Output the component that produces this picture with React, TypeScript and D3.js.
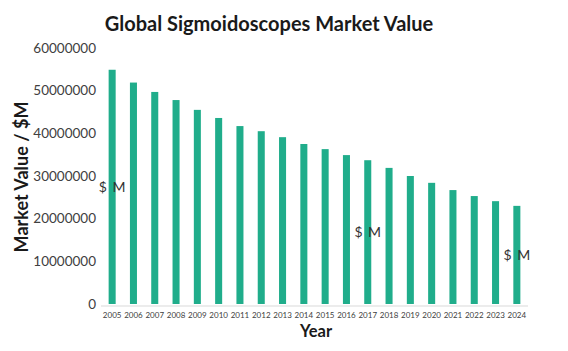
import * as d3 from "d3";
import React, { useEffect, useRef } from "react";

const years = [
  "2005", "2006", "2007", "2008", "2009", "2010", "2011", "2012", "2013", "2014",
  "2015", "2016", "2017", "2018", "2019", "2020", "2021", "2022", "2023", "2024",
];
const values = [
  54900000, 51900000, 49700000, 47800000, 45500000, 43600000, 41700000, 40500000,
  39100000, 37500000, 36300000, 34900000, 33700000, 31900000, 30000000, 28400000,
  26700000, 25300000, 24100000, 23000000,
];
const yTicks = [0, 10000000, 20000000, 30000000, 40000000, 50000000, 60000000];
const labelYears = ["2005", "2017", "2024"];

export default function App() {
  const ref = useRef<SVGSVGElement>(null);

  useEffect(() => {
    const svg = d3.select(ref.current);
    svg.selectAll("*").remove();
    const font = "Lato, 'Open Sans', sans-serif";

    const x = d3
      .scaleBand()
      .domain(years)
      .range([101.5, 527.5])
      .paddingInner(0.67)
      .paddingOuter(0.335);
    const y = d3.scaleLinear().domain([0, 60000000]).range([304, 48]);

    // title
    svg
      .append("text")
      .text("Global Sigmoidoscopes Market Value")
      .attr("x", 269)
      .attr("y", 31)
      .attr("text-anchor", "middle")
      .attr("font-family", font)
      .attr("font-weight", 700)
      .attr("font-size", 20)
      .attr("fill", "#1a1a1a");

    // y ticks
    svg
      .append("g")
      .selectAll("text")
      .data(yTicks)
      .enter()
      .append("text")
      .text((d) => String(d))
      .attr("x", 96)
      .attr("y", (d) => y(d))
      .attr("dy", "0.35em")
      .attr("text-anchor", "end")
      .attr("font-family", font)
      .attr("font-size", 13.5)
      .attr("fill", "#404040");

    // axis line
    svg
      .append("line")
      .attr("x1", 101)
      .attr("x2", 528)
      .attr("y1", 306)
      .attr("y2", 306)
      .attr("stroke", "#d9d9d9")
      .attr("stroke-width", 1);

    // bars
    svg
      .append("g")
      .selectAll("rect")
      .data(values)
      .enter()
      .append("rect")
      .attr("x", (d, i) => x(years[i]) as number)
      .attr("width", x.bandwidth())
      .attr("y", (d) => y(d))
      .attr("height", (d) => y(0) - y(d))
      .attr("fill", "#20ad8b");

    // year labels
    svg
      .append("g")
      .selectAll("text")
      .data(years)
      .enter()
      .append("text")
      .text((d) => d)
      .attr("x", (d) => (x(d) as number) + x.bandwidth() / 2)
      .attr("y", 318)
      .attr("text-anchor", "middle")
      .attr("font-family", font)
      .attr("font-size", 8)
      .attr("fill", "#404040");

    // "$ M" labels in middle of some bars
    svg
      .append("g")
      .selectAll("text")
      .data(labelYears)
      .enter()
      .append("text")
      .text("$ M")
      .attr("x", (d) => (x(d) as number) + x.bandwidth() / 2)
      .attr("y", (d) => y(values[years.indexOf(d)] / 2))
      .attr("dy", "0.35em")
      .attr("text-anchor", "middle")
      .attr("font-family", font)
      .attr("font-size", 14)
      .attr("word-spacing", 2)
      .attr("fill", "#333");

    // axis titles
    svg
      .append("text")
      .text("Year")
      .attr("x", 316)
      .attr("y", 337)
      .attr("text-anchor", "middle")
      .attr("font-family", font)
      .attr("font-weight", 700)
      .attr("font-size", 16.5)
      .attr("fill", "#1a1a1a");

    svg
      .append("text")
      .text("Market Value / $M")
      .attr("transform", "translate(28, 177) rotate(-90)")
      .attr("text-anchor", "middle")
      .attr("font-family", font)
      .attr("font-weight", 700)
      .attr("font-size", 18)
      .attr("fill", "#1a1a1a");
  }, []);

  return (
    <svg
      ref={ref}
      width={568}
      height={351}
      style={{ position: "absolute", left: 0, top: 0, background: "#fff" }}
    />
  );
}
